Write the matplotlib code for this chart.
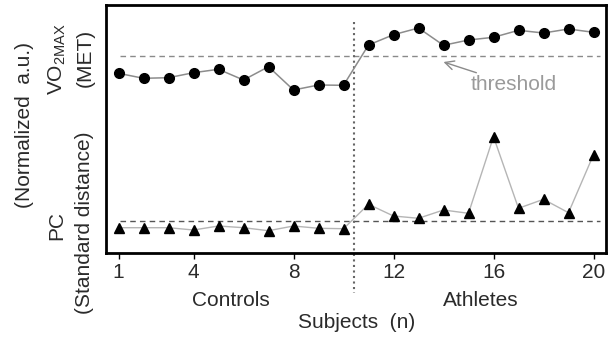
import matplotlib
matplotlib.use("Agg")
import matplotlib.pyplot as plt

plt.rcParams['font.family'] = ['Liberation Sans', 'DejaVu Sans']
plt.rcParams['mathtext.fontset'] = 'custom'
plt.rcParams['mathtext.rm'] = 'Liberation Sans'

# data (arbitrary normalized units)
subjects = list(range(1, 21))
vo2max = [179.7, 174.7, 175.3, 180.3, 183.7, 173.0, 186.3, 163.0, 168.0, 167.7,
          208.0, 218.3, 225.0, 207.7, 213.0, 215.7, 222.7, 220.0, 224.0, 220.7]
pc = [25.3, 25.3, 25.3, 23.0, 27.0, 25.3, 22.3, 27.0, 24.7, 24.3,
      48.7, 37.0, 34.7, 43.0, 39.7, 116.3, 44.7, 53.7, 40.3, 98.3]
vo2_threshold = 197
pc_threshold = 32
group_split = 10.4
xticks = [1, 4, 8, 12, 16, 20]

W, H = 616, 339
fig = plt.figure(figsize=(W / 100, H / 100), dpi=100)
ax = fig.add_axes([106 / W, 1 - 253 / H, 500 / W, 248 / H])

txt = '#2a2a2a'

ax.plot(subjects, vo2max, color='#8c8c8c', lw=1.1, marker='o', ms=7,
        mfc='black', mec='black', zorder=3)
ax.plot(subjects, pc, color='#b5b5b5', lw=1.0, marker='^', ms=6.5,
        mfc='black', mec='black', zorder=3)

ax.axhline(vo2_threshold, xmin=0.028, xmax=0.988, color='#8a8a8a', ls=(0, (4, 3)), lw=1.0)
ax.axhline(pc_threshold, xmin=0.028, xmax=0.988, color='#555555', ls=(0, (4, 3)), lw=1.0)
ax.plot([group_split, group_split], [231, -40], color='#666666', ls=':', lw=1.5,
        clip_on=False, zorder=2)

ax.annotate('threshold', xy=(14.0, 191), xytext=(15.1, 168), color='#9a9a9a',
            fontsize=15, va='center', ha='left',
            arrowprops=dict(arrowstyle='->', color='#8a8a8a', lw=1.0,
                            shrinkA=0, shrinkB=0, mutation_scale=16))

ax.set_xlim(0.5, 20.5)
ax.set_ylim(0, 248)
ax.set_yticks([])
ax.set_xticks(xticks)
ax.tick_params(axis='x', length=4, width=1, labelsize=15, labelcolor=txt, pad=3)
for s in ax.spines.values():
    s.set_linewidth(2.0)
    s.set_color('black')

fig.text(231 / W, 1 - 300 / H, 'Controls', ha='center', va='center', fontsize=15, color=txt)
fig.text(481 / W, 1 - 300 / H, 'Athletes', ha='center', va='center', fontsize=15, color=txt)
fig.text(357 / W, 1 - 323 / H, 'Subjects  (n)', ha='center', va='center', fontsize=15, color=txt)

fig.text(25 / W, 1 - 125 / H, '(Normalized  a.u.)', rotation=90, ha='center', va='center',
         fontsize=15, color=txt)
fig.text(57 / W, 1 - 59 / H, r'VO$_{\mathregular{2MAX}}$', rotation=90, ha='center', va='center',
         fontsize=15, color=txt)
fig.text(85 / W, 1 - 58 / H, '(MET)', rotation=90, ha='center', va='center',
         fontsize=15, color=txt)
fig.text(57 / W, 1 - 225 / H, 'PC', rotation=90, ha='center', va='center',
         fontsize=15, color=txt)
fig.text(85 / W, 1 - 223 / H, '(Standard distance)', rotation=90, ha='center', va='center',
         fontsize=15, color=txt)

fig.savefig('out.png', dpi=100)
